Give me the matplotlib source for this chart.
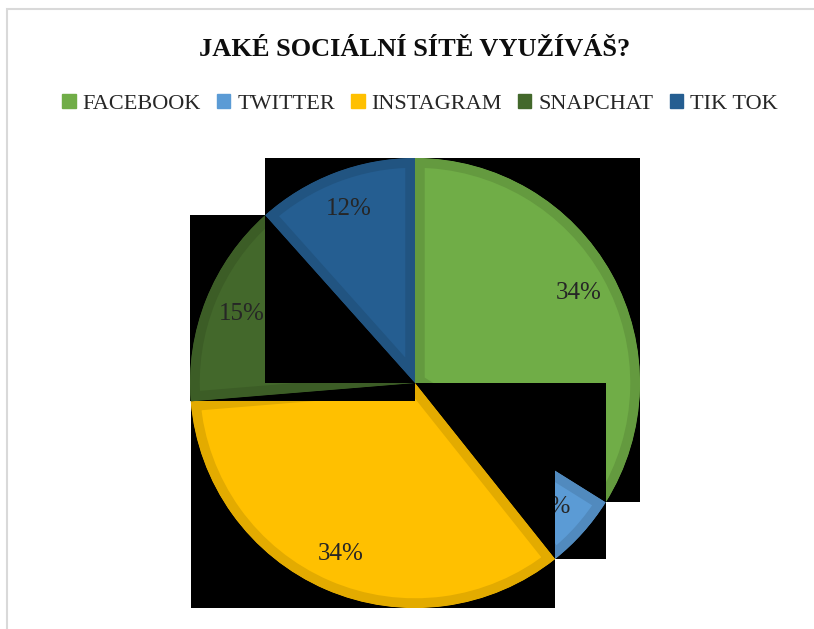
import matplotlib
matplotlib.use("Agg")
import matplotlib.pyplot as plt
from matplotlib.colors import to_rgb
from matplotlib.patches import Patch, Rectangle

title = "JAKÉ SOCIÁLNÍ SÍTĚ VYUŽÍVÁŠ?"
sites = ["FACEBOOK", "TWITTER", "INSTAGRAM", "SNAPCHAT", "TIK TOK"]
shares = [33.9, 5.4, 34.4, 14.7, 11.6]
colors = ["#70AD47", "#5B9BD5", "#FFC000", "#43682B", "#255E91"]

plt.rcParams["font.family"] = ["Liberation Serif", "DejaVu Serif"]


def darker(c, f=0.89):
    r, g, b = to_rgb(c)
    return (r * f, g * f, b * f)


fig = plt.figure(figsize=(8.14, 6.29), dpi=100)
ax = fig.add_axes([190 / 814, 21 / 629, 450 / 814, 450 / 629])

wedges, _, pct = ax.pie(
    shares, colors=colors, startangle=90, counterclock=False,
    autopct="%.0f%%", pctdistance=0.83,
    textprops=dict(fontsize=18, color="#262626"),
)
ax.set_xlim(-1, 1)
ax.set_ylim(-1, 1)

# each slice sits on its own black bounding box, drawn in slice order
for i, (w, t) in enumerate(zip(wedges, pct)):
    bb = w.get_path().get_extents()
    ax.add_patch(Rectangle((bb.x0, bb.y0), bb.width, bb.height,
                           facecolor="black", edgecolor="none",
                           zorder=3 * i + 1, clip_on=False))
    w.set_zorder(3 * i + 2)
    w.set_edgecolor(darker(colors[i]))
    w.set_linewidth(14)
    w.set_clip_on(True)
    w.set_clip_path(w)  # keep the darker border inside the slice
    t.set_zorder(3 * i + 3)

fig.text(415 / 814, 1 - 50 / 629, title, ha="center", va="center",
         fontsize=19, fontweight="bold", color="#0d0d0d")

handles = [Patch(facecolor=c, edgecolor=c) for c in colors]
fig.legend(handles, sites, loc="center", bbox_to_anchor=(420 / 814, 1 - 104 / 629),
           ncol=5, frameon=False, fontsize=16, handlelength=0.6,
           handleheight=0.6, handletextpad=0.32, columnspacing=0.72,
           labelcolor="#262626")

fig.patches.append(Rectangle((6.5 / 814, -0.1), 1.2, 1.1 - 9.5 / 629,
                             transform=fig.transFigure, fill=False,
                             edgecolor="#D9D9D9", linewidth=1.5))

fig.savefig("out.png", dpi=100)
